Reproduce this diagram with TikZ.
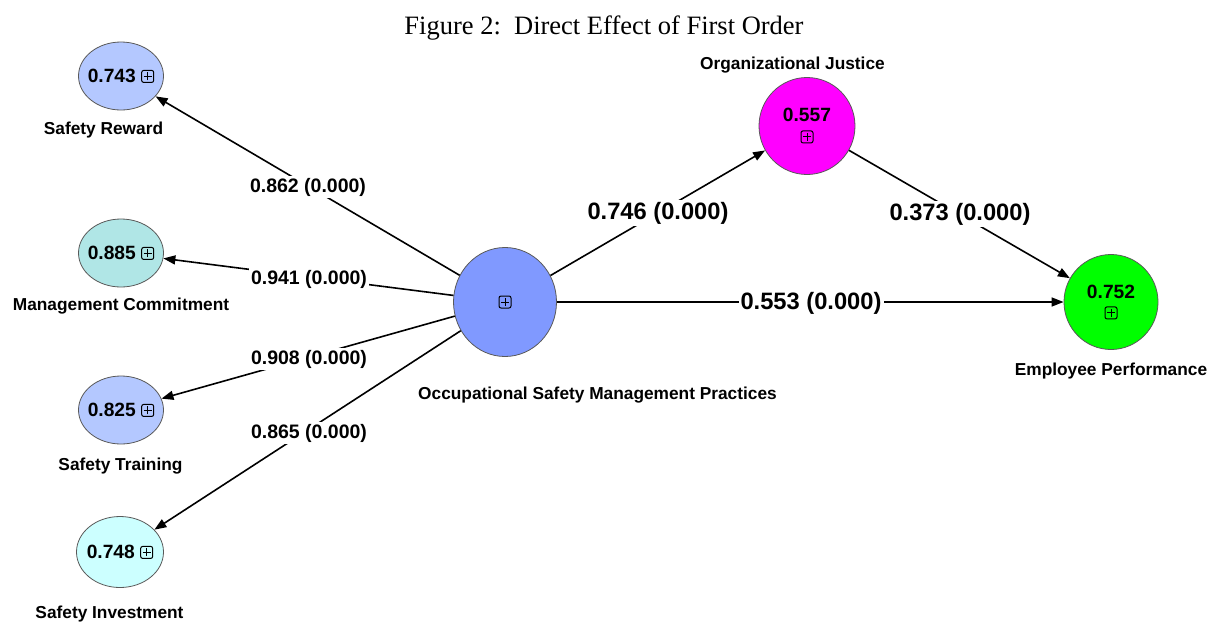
\documentclass[tikz,border=0pt]{standalone}
\usepackage{fontspec}
\setmainfont{Liberation Serif}
\setsansfont{Liberation Sans}
\usetikzlibrary{shapes.geometric,arrows.meta}
\newcommand\bxplus{\tikz[baseline=-0.6ex]{\draw[rounded corners=2pt,line width=1pt] (-6pt,-6pt) rectangle (6pt,6pt);\draw[line width=1pt] (-4pt,0pt)--(4pt,0pt) (0pt,-4pt)--(0pt,4pt);}}
\newcommand\zbox[1]{\makebox[0pt]{#1}}
\definecolor{srblue}{RGB}{180,200,255}
\definecolor{mcteal}{RGB}{176,230,230}
\definecolor{sicyan}{RGB}{204,255,255}
\definecolor{osblue}{RGB}{128,153,255}
\definecolor{ojmag}{RGB}{255,0,255}
\definecolor{epgreen}{RGB}{0,255,0}
\begin{document}
\begin{tikzpicture}[x=1pt,y=-1pt,
  lv/.style={ellipse,draw=black!65,line width=0.8pt,inner sep=0pt,minimum width=85pt,minimum height=68pt,font=\sffamily\bfseries\fontsize{19.2}{21}\selectfont,align=center},
  nl/.style={font=\sffamily\bfseries\fontsize{17.3}{19}\selectfont,inner sep=0pt},
  el/.style={fill=white,inner sep=2pt,font=\sffamily\bfseries\fontsize{19.5}{21}\selectfont},
  elb/.style={el,font=\sffamily\bfseries\fontsize{23.7}{25}\selectfont},
  arr/.style={-{Triangle[length=12pt,width=9pt]},line width=1.6pt}]
\useasboundingbox (0,0) rectangle (1213,624);
\node[font=\fontsize{26.5}{28}\selectfont] (title) at (604,28) {Figure 2:\ \ Direct Effect of First Order};
% latent variables
\node[lv,fill=srblue] (sr) at (121,76) {\zbox{0.743 \bxplus}};
\node[lv,fill=mcteal] (mc) at (121,253) {\zbox{0.885 \bxplus}};
\node[lv,fill=srblue] (st) at (121,410) {\zbox{0.825 \bxplus}};
\node[lv,fill=sicyan,minimum width=87pt,minimum height=71pt] (si) at (120,552) {\zbox{0.748 \bxplus}};
\node[lv,fill=osblue,minimum width=103pt,minimum height=109pt] (os) at (505,302) {\bxplus};
\node[lv,fill=ojmag,minimum width=96pt,minimum height=97pt] (oj) at (807,126) {0.557\\[0pt]\bxplus};
\node[lv,fill=epgreen,minimum width=94pt,minimum height=95pt] (ep) at (1111,302) {0.752\\[0pt]\bxplus};
% names
\node[nl] (srn) at (103.5,130) {Safety Reward};
\node[nl] (mcn) at (121,306) {Management Commitment};
\node[nl] (stn) at (120.5,466) {Safety Training};
\node[nl] (sin) at (109.5,614) {Safety Investment};
\node[nl] (osn) at (597.5,395) {Occupational Safety Management Practices};
\node[nl] (ojn) at (792.5,65) {Organizational Justice};
\node[nl] (epn) at (1111,371) {Employee Performance};
% paths
\draw[arr] (os) -- (sr);
\draw[arr] (os) -- (mc);
\draw[arr] (os) -- (st);
\draw[arr] (os) -- (si);
\draw[arr] (os) -- (oj);
\draw[arr] (oj) -- (ep);
\draw[arr] (os) -- (ep);
% path labels
\node[el] (l1) at (308,187) {0.862 (0.000)};
\node[el] (l2) at (309,279) {0.941 (0.000)};
\node[el] (l3) at (309,359) {0.908 (0.000)};
\node[el] (l4) at (309,433) {0.865 (0.000)};
\node[elb] (l5) at (658,213) {0.746 (0.000)};
\node[elb] (l6) at (960,214) {0.373 (0.000)};
\node[elb] (l7) at (811,303) {0.553 (0.000)};
\end{tikzpicture}
\end{document}
